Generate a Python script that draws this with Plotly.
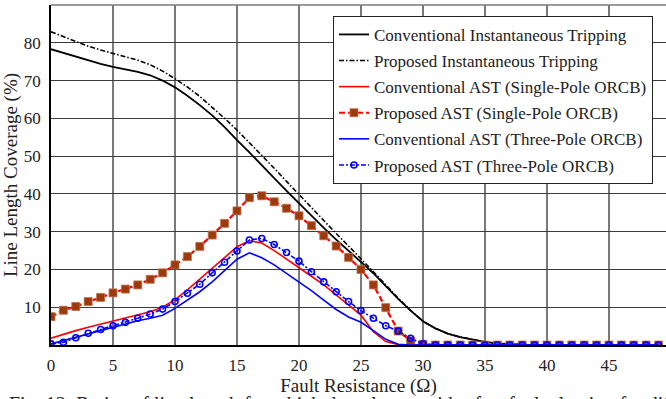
import plotly.graph_objects as go

# Fault resistance (ohm), one sample per integer step
fault_res = list(range(0, 50))

conv_inst = [78.3, 77.3, 76.3, 75.3, 74.4, 73.6, 73.0, 72.3, 71.4, 70.0,
             68.2, 66.0, 63.5, 60.8, 57.7, 54.2, 51.0, 47.5, 44.2, 40.8,
             37.5, 34.2, 31.0, 27.9, 25.0, 22.0, 19.0, 15.6, 12.2, 9.1,
             6.3, 4.4, 3.0, 2.1, 1.4, 0.8, 0.4, 0.2, 0.1, 0.05,
             0, 0, 0, 0, 0, 0, 0, 0, 0, 0]

prop_inst = [82.9, 81.6, 80.3, 79.1, 78.1, 77.2, 76.4, 75.4, 74.2, 72.5,
             70.5, 68.3, 65.8, 63.0, 60.0, 56.9, 53.6, 50.2, 46.8, 43.3,
             39.8, 36.3, 32.9, 29.5, 26.2, 22.9, 19.4, 15.9, 12.4, 9.2,
             6.3, 4.4, 3.0, 2.1, 1.4, 0.8, 0.4, 0.2, 0.1, 0.05,
             0, 0, 0, 0, 0, 0, 0, 0, 0, 0]

conv_ast_1p = [1.8, 2.9, 3.8, 4.7, 5.5, 6.3, 7.1, 7.9, 8.8, 10.0,
               12.0, 14.6, 17.5, 20.4, 23.2, 26.0, 27.6, 27.0, 25.0, 22.8,
               20.5, 18.2, 15.9, 13.2, 10.4, 7.9, 3.5, 0.9, 0.1, 0,
               0, 0, 0, 0, 0, 0, 0, 0, 0, 0,
               0, 0, 0, 0, 0, 0, 0, 0, 0, 0]

prop_ast_1p = [7.5, 9.2, 10.2, 11.5, 12.6, 13.8, 14.8, 15.9, 17.4, 19.1,
               21.2, 23.4, 26.1, 29.1, 32.2, 35.5, 39.0, 39.5, 37.9, 36.2,
               34.2, 31.6, 28.9, 26.2, 23.2, 20.0, 15.9, 9.9, 3.7, 1.1,
               0.2, 0, 0, 0, 0, 0, 0, 0, 0, 0,
               0, 0, 0, 0, 0, 0, 0, 0, 0, 0]

conv_ast_3p = [0.3, 1.2, 2.0, 2.9, 3.8, 4.8, 5.6, 6.4, 7.1, 7.9,
               9.7, 11.8, 14.1, 16.7, 19.8, 22.7, 24.4, 23.1, 21.2, 19.0,
               16.8, 14.4, 11.9, 9.4, 7.4, 6.0, 3.8, 1.5, 0.2, 0,
               0, 0, 0, 0, 0, 0, 0, 0, 0, 0,
               0, 0, 0, 0, 0, 0, 0, 0, 0, 0]

prop_ast_3p = [0.3, 0.7, 1.9, 3.1, 4.1, 5.1, 6.0, 7.1, 8.2, 9.5,
               11.5, 13.7, 16.1, 19.1, 21.9, 24.9, 27.8, 28.2, 26.6, 24.5,
               22.2, 19.4, 16.7, 14.1, 11.5, 9.1, 7.1, 5.1, 3.7, 1.8,
               0.3, 0, 0, 0, 0, 0, 0, 0, 0, 0,
               0, 0, 0, 0, 0, 0, 0, 0, 0, 0]

x_ticks = [0, 5, 10, 15, 20, 25, 30, 35, 40, 45]
y_ticks = [10, 20, 30, 40, 50, 60, 70, 80]

SERIF = "Liberation Serif, Times New Roman, serif"
INK = "#222222"

fig = go.Figure()

fig.add_trace(go.Scatter(
    x=fault_res, y=conv_inst, mode="lines",
    name="Conventional Instantaneous Tripping", legendgroup="a",
    line=dict(color="black", width=1.8)))

fig.add_trace(go.Scatter(
    x=fault_res, y=prop_inst, mode="lines",
    name="Proposed Instantaneous Tripping", legendgroup="b",
    line=dict(color="black", width=1.6, dash="5px,2px,1.5px,2px")))

fig.add_trace(go.Scatter(
    x=fault_res, y=conv_ast_1p, mode="lines",
    name="Conventional AST (Single-Pole ORCB)", legendgroup="c",
    line=dict(color="#ff0000", width=1.6)))

fig.add_trace(go.Scatter(
    x=fault_res, y=prop_ast_1p, mode="lines+markers",
    name="Proposed AST (Single-Pole ORCB)", legendgroup="d",
    line=dict(color="#ff0000", width=2.2, dash="6px,3px"),
    marker=dict(symbol="square", size=8, color="#9c3a0e",
                line=dict(color="#c0704a", width=0.8))))

fig.add_trace(go.Scatter(
    x=fault_res, y=conv_ast_3p, mode="lines",
    name="Conventional AST (Three-Pole ORCB)", legendgroup="e",
    line=dict(color="#0000ff", width=1.6)))

fig.add_trace(go.Scatter(
    x=fault_res, y=prop_ast_3p, mode="lines+markers",
    name="Proposed AST (Three-Pole ORCB)", legendgroup="f",
    line=dict(color="#0000ff", width=1.6, dash="5px,2px,2px,2px"),
    marker=dict(symbol="circle-open", size=6, color="#0000ff",
                line=dict(color="#0000ff", width=1.6))))

fig.update_layout(
    width=666, height=399,
    margin=dict(l=51, r=0, t=5, b=54),
    paper_bgcolor="white", plot_bgcolor="white",
    font=dict(family=SERIF, size=17, color=INK),
    showlegend=True,
    legend=dict(
        x=0.4585, y=0.968, xanchor="left", yanchor="top",
        bgcolor="white", bordercolor=INK, borderwidth=1,
        font=dict(family=SERIF, size=17, color=INK),
        traceorder="grouped", tracegroupgap=1,
    ),
    xaxis=dict(
        range=[0, 49.6], tickvals=x_ticks, ticktext=[str(v) for v in x_ticks],
        showgrid=True, gridcolor="#7a7a7a", gridwidth=1.5,
        zeroline=False, showline=True, linecolor="black", linewidth=1.5,
        mirror=False, ticks="", ticklabelstandoff=4,
        tickfont=dict(family=SERIF, size=17, color=INK),
        title=dict(text="Fault Resistance (Ω)", font=dict(family=SERIF, size=19),
                   standoff=0),
    ),
    yaxis=dict(
        range=[0, 90], tickvals=y_ticks, ticktext=[str(v) for v in y_ticks],
        showgrid=True, gridcolor="#3c3c3c", gridwidth=1.2,
        zeroline=False, showline=True, linecolor="black", linewidth=1.5,
        ticks="", ticklabelstandoff=5,
        tickfont=dict(family=SERIF, size=17, color=INK),
        title=dict(text="Line Length Coverage (%)", font=dict(family=SERIF, size=19),
                   standoff=3),
    ),
)

# top frame edge of the plotting area
fig.add_shape(type="line", xref="paper", yref="paper", x0=0, x1=1, y0=1, y1=1,
              line=dict(color="#7a7a7a", width=1.5))

# figure caption below the axis title
fig.add_annotation(
    text="Fig. 12: Ratios of line length for which the relay provides fast fault clearing for different fault resistances.",
    xref="paper", yref="paper", x=-0.072, y=-0.135,
    xanchor="left", yanchor="top", showarrow=False,
    font=dict(family=SERIF, size=20, color=INK))

fig.write_html("out.html")
